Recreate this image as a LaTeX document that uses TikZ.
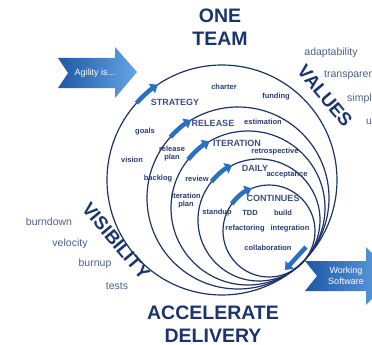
\documentclass[tikz,border=0pt]{standalone}
\usepackage{fontspec}
\setmainfont{Liberation Sans}
\usepackage{tikz}
\usetikzlibrary{positioning, arrows.meta, calc}

\definecolor{navy}{RGB}{28,52,108}
\definecolor{ringline}{RGB}{30,50,100}
\definecolor{stagegray}{RGB}{62,80,122}
\definecolor{taggray}{RGB}{40,60,110}
\definecolor{wordgray}{RGB}{78,95,135}
\definecolor{arrowblue}{RGB}{42,112,192}
\definecolor{arrowdark}{RGB}{30,88,168}
\definecolor{arrowlight}{RGB}{100,165,228}

\begin{document}
\begin{tikzpicture}[x=1pt, y=-1pt,
    headline/.style={font=\fontsize{19.5}{23}\selectfont\bfseries, text=navy,
                     align=center, inner sep=0pt},
    slanted/.style={font=\fontsize{18.5}{19}\selectfont\bfseries, text=navy,
                    inner sep=0pt, rotate=-50},
    stage/.style={font=\fontsize{9}{9}\selectfont\bfseries, text=stagegray, inner sep=0pt},
    tag/.style={font=\fontsize{7.5}{8}\selectfont\bfseries, text=taggray,
                align=center, inner sep=0pt},
    word/.style={font=\fontsize{10.5}{11}\selectfont, text=wordgray, inner sep=0pt},
    ring/.style={draw=ringline, line width=1.2pt},
    flow/.style={line width=4.5pt, draw=arrowblue, -{Triangle[length=7pt, width=11pt]}},
    bigarr/.style={left color=arrowdark, right color=arrowlight, draw=none},
    bigtxt/.style={font=\fontsize{9}{11}\selectfont, text=white, align=center, inner sep=0pt}
  ]
    \useasboundingbox (0,0) rectangle (372,345);
    \clip (0,0) rectangle (372,345);
    % Ring centres
    \coordinate (cS) at (222,180);
    \coordinate (cR) at (238,198);
    \coordinate (cI) at (248,208);
    \coordinate (cD) at (259,220);
    \coordinate (cC) at (269,231);
    % Rings
    \draw[ring] (cS) circle[radius=115];
    \draw[ring] (cR) circle[radius=91];
    \draw[ring] (cI) circle[radius=77];
    \draw[ring] (cD) circle[radius=61];
    \draw[ring] (cC) circle[radius=46];
    % Flow arrows on the rings
    \draw[flow] ($(cS)+(222:115)$) arc[start angle=222, end angle=236, radius=115];
    \draw[flow] ($(cR)+(222:91)$) arc[start angle=222, end angle=239, radius=91];
    \draw[flow] ($(cI)+(219:77)$) arc[start angle=219, end angle=240, radius=77];
    \draw[flow] ($(cD)+(219:61)$) arc[start angle=219, end angle=244, radius=61];
    \draw[flow] ($(cC)+(216:46)$) arc[start angle=216, end angle=248, radius=46];
    \coordinate (exitA) at (306,247);
    \coordinate (exitB) at (285,270);
    \draw[flow] (exitA) -- (exitB);
    % Big arrows
    \path[bigarr] (58,58) -- (115,58) -- (115,47) -- (137,72) -- (115,98)
      -- (115,88) -- (58,88) -- (68,73) -- cycle;
    \node[bigtxt] (agility) at (95,73) {Agility is...};
    \path[bigarr] (305,261) -- (366,261) -- (366,247) -- (394,276) -- (366,305)
      -- (366,291) -- (305,291) -- (317,276) -- cycle;
    \node[bigtxt] (working) at (346,276) {Working\\Software};
    % Headlines
    \node[headline] (team) at (220,27) {ONE\\TEAM};
    \node[headline] (delivery) at (213,324) {ACCELERATE\\DELIVERY};
    \node[slanted] (values) at (325,96) {VALUES};
    \node[slanted] (visibility) at (116,241) {VISIBILITY};
    % Values words
    \node[word] (adapt) at (331,53) {adaptability};
    \node[word, anchor=west] (transp) at (324,75) {transparency};
    \node[word, anchor=west] (simpl) at (347,99) {simplicity};
    \node[word, anchor=west] (unity) at (366,122) {unity};
    % Visibility words
    \node[word] (burndown) at (49,222) {burndown};
    \node[word] (velocity) at (70,244) {velocity};
    \node[word] (burnup) at (95,264) {burnup};
    \node[word] (tests) at (117,286) {tests};
    % Stages
    \node[stage] (strategy) at (175,102) {STRATEGY};
    \node[stage] (release) at (213,123) {RELEASE};
    \node[stage] (iteration) at (237,143) {ITERATION};
    \node[stage] (daily) at (255,168) {DAILY};
    \node[stage] (continues) at (273,198) {CONTINUES};
    % Practices
    \node[tag] (charter) at (224,87) {charter};
    \node[tag] (funding) at (276,97) {funding};
    \node[tag] (goals) at (145,132) {goals};
    \node[tag] (vision) at (132,160) {vision};
    \node[tag] (estim) at (263,122) {estimation};
    \node[tag] (relplan) at (172,154) {release\\plan};
    \node[tag] (retro) at (275,152) {retrospective};
    \node[tag] (backlog) at (158,179) {backlog};
    \node[tag] (review) at (197,179) {review};
    \node[tag] (accept) at (287,175) {acceptance};
    \node[tag] (iterplan) at (186,201) {iteration\\plan};
    \node[tag] (standup) at (217,213) {standup};
    \node[tag] (tdd) at (250,213) {TDD};
    \node[tag] (build) at (283,213) {build};
    \node[tag] (refact) at (245,229) {refactoring};
    \node[tag] (integr) at (290,229) {integration};
    \node[tag] (collab) at (268,248) {collaboration};
\end{tikzpicture}
\end{document}
